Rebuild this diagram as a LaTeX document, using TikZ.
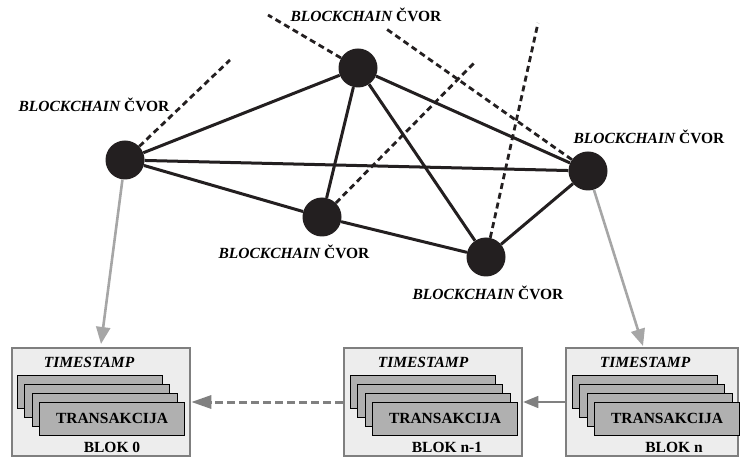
\documentclass[tikz,border=0pt]{standalone}
\usepackage{fontspec}
\setmainfont{Liberation Serif}
\usetikzlibrary{arrows.meta}
\definecolor{ink}{HTML}{231F20}
\definecolor{boxfill}{HTML}{EDEDED}
\definecolor{boxline}{HTML}{7F7F7F}
\definecolor{txfill}{HTML}{B0B0B0}
\definecolor{arrgray}{HTML}{A6A6A6}
\definecolor{chaingray}{HTML}{808080}
\tikzset{
  peer/.style={circle,fill=ink,draw=none,minimum size=39bp,inner sep=0pt},
  link/.style={draw=ink,line width=3bp},
  outlink/.style={draw=ink,line width=2.8bp,dash pattern=on 6bp off 4bp},
  lbl/.style={font=\fontsize{15.5bp}{18bp}\selectfont\bfseries,inner sep=0pt},
  blockbox/.style={draw=boxline,fill=boxfill,line width=2.5bp,minimum height=108bp,inner sep=0pt},
  txbox/.style={draw=black,fill=txfill,line width=0.8bp,minimum width=145bp,minimum height=33bp,inner sep=0pt},
  toblock/.style={draw=arrgray,line width=2.6bp,-{Triangle[width=14bp,length=17bp]}},
}
\newcommand{\bcv}{{\itshape BLOCKCHAIN} ČVOR}
\begin{document}
\begin{tikzpicture}[x=1bp,y=-1bp]
\useasboundingbox (0,0) rectangle (740,458);
% blocks
\node[blockbox,minimum width=178bp] (b0) at (101,402) {};
\node[blockbox,minimum width=178bp] (b1) at (433,402) {};
\node[blockbox,minimum width=172bp] (bn) at (652,402) {};
\foreach \bx/\nm in {17/a,350/b,572/c}{
  \foreach \k in {0,1,2}{
    \node[txbox] (tx\nm\k) at ({\bx+72.5+7.5*\k},{391.5+9*\k}) {};
  }
}
\node[txbox,lbl] (tx0) at (112,418.5) {TRANSAKCIJA};
\node[txbox,lbl] (tx1) at (445,418.5) {TRANSAKCIJA};
\node[txbox,lbl] (txn) at (667,418.5) {TRANSAKCIJA};
\node[lbl] (ts0) at (89,362) {\itshape TIMESTAMP};
\node[lbl] (ts1) at (423,362) {\itshape TIMESTAMP};
\node[lbl] (tsn) at (645,362) {\itshape TIMESTAMP};
\node[lbl] (bl0) at (112,447) {BLOK 0};
\node[lbl] (bl1) at (447,447) {BLOK n-1};
\node[lbl] (bln) at (674,447) {BLOK n};
% chain arrows
\draw[draw=chaingray,line width=3bp,dash pattern=on 8bp off 4bp,-{Triangle[width=13bp,length=20bp]}] (b1.west) -- (b0.east);
\draw[draw=chaingray,line width=1.5bp,-{Triangle[width=12bp,length=15bp]}] (bn.west) -- (b1.east);
% peers
\node[peer] (A) at (125,160) {};
\node[peer] (B) at (358,68) {};
\node[peer] (C) at (322,217) {};
\node[peer] (D) at (486,257) {};
\node[peer] (E) at (588,171) {};
% outward dashed links
\coordinate (pA) at (230,60);
\coordinate (pB) at (268,15);
\coordinate (pC) at (475,62);
\coordinate (pD) at (538,23);
\coordinate (pE) at (385,28);
\draw[outlink] (A) -- (pA);
\draw[outlink] (B) -- (pB);
\draw[outlink] (C) -- (pC);
\draw[outlink] (D) -- (pD);
\draw[outlink] (E) -- (pE);
% peer links
\draw[link] (A) -- (B);
\draw[link] (A) -- (E);
\draw[link] (A) -- (C);
\draw[link] (B) -- (C);
\draw[link] (B) -- (D);
\draw[link] (B) -- (E);
\draw[link] (C) -- (D);
\draw[link] (D) -- (E);
% labels
\node[lbl] (lA) at (94,105) {\bcv};
\node[lbl] (lB) at (366,15) {\bcv};
\node[lbl] (lE) at (649,137) {\bcv};
\node[lbl] (lC) at (294,252) {\bcv};
\node[lbl] (lD) at (488,293) {\bcv};
% to-block arrows
\coordinate (t0) at (101,344);
\coordinate (tn) at (643,346);
\draw[toblock] (A) -- (t0);
\draw[toblock] (E) -- (tn);
\end{tikzpicture}
\end{document}
